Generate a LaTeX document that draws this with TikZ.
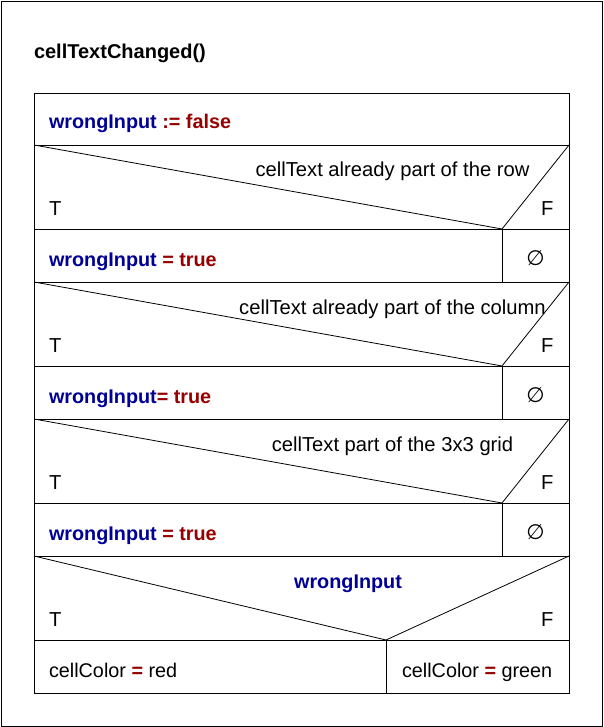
\documentclass[tikz,border=0pt]{standalone}
\usepackage{fontspec}
\setmainfont{Liberation Sans}
\newfontfamily\dejavu{DejaVu Sans}
\definecolor{varblue}{RGB}{0,0,150}
\definecolor{opred}{RGB}{150,0,0}
\begin{document}
\begin{tikzpicture}[x=1pt,y=-1pt,
  line width=0.8pt,
  txt/.style={inner sep=0pt,outer sep=0pt,font=\fontsize{20.2}{24}\selectfont},
  lt/.style={txt,anchor=base west},
  bt/.style={lt,font=\fontsize{19.8}{24}\selectfont},
  ct/.style={txt,anchor=base},
  ttl/.style={txt,anchor=base west,font=\fontsize{20}{24}\selectfont\bfseries},
  nil/.style={inner sep=0pt,font=\dejavu\fontsize{21}{25}\selectfont}]
\useasboundingbox (0,0) rectangle (603,727);
\draw (1,1) rectangle (602,726);
\node[ttl] (title) at (34,59) {cellTextChanged()};
% main frame
\draw (34,93) rectangle (569,693);
\foreach \y in {145,229,282,366,419,503,556,640} \draw (34,\y) -- (569,\y);
% assignment
\node[bt] (a0) at (49,129) {\textbf{\color{varblue}wrongInput} \textbf{\color{opred}:= false}};
% condition 1
\draw (34,145) -- (502,229) -- (569,145);
\node[ct] (c1) at (392.5,177) {cellText already part of the row};
\node[lt] (t1) at (49,215) {T};
\node[lt] (f1) at (541,215) {F};
\draw (502,229) -- (502,282);
\node[bt] (a1) at (49,266) {\textbf{\color{varblue}wrongInput} \textbf{\color{opred}= true}};
\node[nil] (n1) at (535.5,258.5) {∅};
% condition 2
\draw (34,282) -- (502,366) -- (569,282);
\node[ct] (c2) at (392.5,314) {cellText already part of the column};
\node[lt] (t2) at (49,352) {T};
\node[lt] (f2) at (541,352) {F};
\draw (502,366) -- (502,419);
\node[bt] (a2) at (49,403) {\textbf{\color{varblue}wrongInput}\textbf{\color{opred}= true}};
\node[nil] (n2) at (535.5,395.5) {∅};
% condition 3
\draw (34,419) -- (502,503) -- (569,419);
\node[ct] (c3) at (392.5,451) {cellText part of the 3x3 grid};
\node[lt] (t3) at (49,489) {T};
\node[lt] (f3) at (541,489) {F};
\draw (502,503) -- (502,556);
\node[bt] (a3) at (49,540) {\textbf{\color{varblue}wrongInput} \textbf{\color{opred}= true}};
\node[nil] (n3) at (535.5,532.5) {∅};
% final condition
\draw (34,556) -- (386,640) -- (569,556);
\node[ct,font=\fontsize{19.8}{24}\selectfont] (c4) at (348,588) {\textbf{\color{varblue}wrongInput}};
\node[lt] (t4) at (49,626) {T};
\node[lt] (f4) at (541,626) {F};
\draw (386,640) -- (386,693);
\node[bt] (b1) at (49,677) {cellColor \textbf{\color{opred}=} red};
\node[bt] (b2) at (402,677) {cellColor \textbf{\color{opred}=} green};
\end{tikzpicture}
\end{document}
